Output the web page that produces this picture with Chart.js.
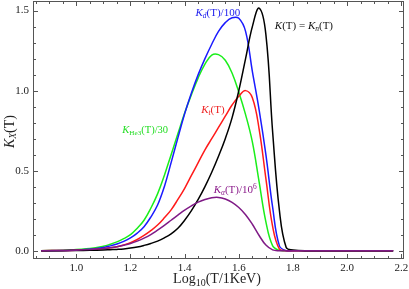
<!DOCTYPE html>
<html>
<head>
<meta charset="utf-8">
<script src="https://cdn.jsdelivr.net/npm/chart.js@4"></script>
<style>
  html, body { margin: 0; padding: 0; background: #fff; }
  #wrap { width: 409px; height: 289px; position: relative; }
</style>
</head>
<body>
<div id="wrap"><canvas id="chart"></canvas></div>
<script>
// ---------- data ----------
const LOG_T = [0.87, 0.95, 1.0, 1.05,
    1.1, 1.125, 1.15, 1.175, 1.2, 1.225, 1.25, 1.275, 1.3, 1.325, 1.35, 1.375, 1.4, 1.425, 1.45, 1.475,
    1.5, 1.525, 1.55, 1.575, 1.6, 1.625, 1.65, 1.675, 1.7, 1.725, 1.75, 1.775, 1.8,
    1.85, 2.17];

const K_N = [0, 0, 0.001, 0.002,
    0.004, 0.006, 0.008, 0.011, 0.016, 0.023, 0.033, 0.045, 0.06, 0.08, 0.105, 0.14, 0.19, 0.25, 0.32, 0.4,
    0.49, 0.59, 0.7, 0.83, 1.0, 1.2, 1.4, 1.515, 1.35, 0.74, 0.25, 0.02, 0.005,
    0, 0];
const K_D = [0, 0.001, 0.005, 0.009,
    0.02, 0.03, 0.042, 0.058, 0.08, 0.11, 0.15, 0.21, 0.285, 0.4, 0.55, 0.705, 0.855, 0.985, 1.1, 1.2,
    1.29, 1.37, 1.425, 1.455, 1.452, 1.37, 1.12, 0.88, 0.6, 0.27, 0.03, 0, 0,
    0, 0];
const K_T = [0, 0.001, 0.003, 0.006,
    0.012, 0.018, 0.025, 0.036, 0.05, 0.07, 0.095, 0.125, 0.16, 0.205, 0.255, 0.32, 0.39, 0.47, 0.55, 0.63,
    0.7, 0.77, 0.84, 0.91, 0.965, 1.0, 0.955, 0.76, 0.45, 0.15, 0.01, 0, 0,
    0, 0];
const K_HE3 = [0, 0.002, 0.008, 0.013,
    0.028, 0.04, 0.055, 0.075, 0.1, 0.14, 0.19, 0.265, 0.355, 0.47, 0.6, 0.73, 0.86, 0.975, 1.08, 1.165,
    1.222, 1.225, 1.19, 1.11, 0.99, 0.85, 0.68, 0.43, 0.18, 0.03, 0.002, 0, 0,
    0, 0];
const K_ALPHA = [0, 0.001, 0.003, 0.007,
    0.013, 0.018, 0.025, 0.034, 0.045, 0.06, 0.078, 0.1, 0.128, 0.158, 0.19, 0.222, 0.253, 0.28, 0.303, 0.32,
    0.331, 0.333, 0.323, 0.302, 0.27, 0.225, 0.165, 0.095, 0.035, 0.005, 0, 0, 0,
    0, 0];

const X_TICKS = [1.0, 1.2, 1.4, 1.6, 1.8, 2.0, 2.2];
const Y_TICKS = [0.0, 0.5, 1.0, 1.5];

const SERIF = '"Liberation Serif", "DejaVu Serif", serif';

// curve labels (rich text with subscripts/superscripts), anchored in data coords
const CURVE_LABELS = [
    { x: 1.44, y: 1.486, size: 11, color: '#2222ee', parts: [['K', 'i'], ['d', 'sub'], ['(T)/100']] },
    { x: 1.733, y: 1.404, size: 11, color: '#111', parts: [['K', 'i'], ['(T) = '], ['K', 'i'], ['n', 'sub'], ['(T)']] },
    { x: 1.17, y: 0.754, size: 10.5, color: '#22dd22', parts: [['K', 'i'], ['He3', 'sub'], ['(T)/30']] },
    { x: 1.461, y: 0.879, size: 11, color: '#ee2222', parts: [['K', 'i'], ['t', 'sub'], ['(T)']] },
    { x: 1.507, y: 0.379, size: 11, color: '#8a1a8a', parts: [['K', 'i'], ['α', 'sub'], ['(T)/10'], ['6', 'sup']] }
];

function pts(arr) {
    return LOG_T.map((x, i) => ({ x: x, y: arr[i] }));
}

function drawRich(ctx, x, y, parts, size, color) {
    ctx.fillStyle = color;
    ctx.textBaseline = 'middle';
    ctx.textAlign = 'left';
    let cx = x;
    parts.forEach(p => {
        const kind = p[1] || '';
        const small = kind === 'sub' || kind === 'sup';
        const fs = small ? size * 0.68 : size;
        const ital = kind === 'i' || (small && p[0] !== '6' && p[0] !== 'He3') ? 'italic ' : '';
        ctx.font = ital + fs + 'px ' + SERIF;
        let dy = 0;
        if (kind === 'sub') dy = size * 0.28;
        if (kind === 'sup') dy = -size * 0.3;
        ctx.fillText(p[0], cx, y + dy);
        cx += ctx.measureText(p[0]).width;
    });
    return cx - x;
}

function richWidth(ctx, parts, size) {
    let w = 0;
    parts.forEach(p => {
        const small = p[1] === 'sub' || p[1] === 'sup';
        ctx.font = (p[1] === 'i' ? 'italic ' : '') + (small ? size * 0.68 : size) + 'px ' + SERIF;
        w += ctx.measureText(p[0]).width;
    });
    return w;
}

// frame with inward ticks on all four sides, plus axis titles and curve labels
const framePlugin = {
    id: 'frame',
    afterDatasetsDraw(chart) {
        const ctx = chart.ctx;
        const a = chart.chartArea;
        const xs = chart.scales.x, ys = chart.scales.y;
        ctx.save();
        ctx.strokeStyle = '#555';
        ctx.lineWidth = 1;
        ctx.strokeRect(a.left + 0.5, a.top + 0.5, a.right - a.left - 1, a.bottom - a.top - 1);

        // x ticks
        for (let i = 0; i <= 28; i++) {
            const v = 0.85 + i * 0.05;
            if (v > xs.max) break;
            const major = i % 4 === 3;
            const len = major ? 5 : 3;
            const px = Math.round(xs.getPixelForValue(v)) + 0.5;
            ctx.beginPath();
            ctx.moveTo(px, a.bottom); ctx.lineTo(px, a.bottom - len);
            ctx.moveTo(px, a.top); ctx.lineTo(px, a.top + len);
            ctx.stroke();
        }
        // y ticks
        for (let i = 0; i <= 15; i++) {
            const v = i * 0.1;
            const major = i % 5 === 0;
            const len = major ? 5 : 3;
            const py = Math.round(ys.getPixelForValue(v)) + 0.5;
            ctx.beginPath();
            ctx.moveTo(a.left, py); ctx.lineTo(a.left + len, py);
            ctx.moveTo(a.right, py); ctx.lineTo(a.right - len, py);
            ctx.stroke();
        }

        // curve labels
        CURVE_LABELS.forEach(l => {
            drawRich(ctx, xs.getPixelForValue(l.x), ys.getPixelForValue(l.y), l.parts, l.size, l.color);
        });

        // x title: Log10(T/1KeV)
        const xt = [['Log'], ['10', 'subn'], ['(T/1KeV)']];
        ctx.fillStyle = '#222';
        ctx.textBaseline = 'middle';
        let w = 0;
        xt.forEach(p => {
            ctx.font = (p[1] ? 10 : 14) + 'px ' + SERIF;
            w += ctx.measureText(p[0]).width;
        });
        let cx = 217 - w / 2;
        xt.forEach(p => {
            ctx.font = (p[1] ? 10 : 14) + 'px ' + SERIF;
            ctx.fillText(p[0], cx, 279 + (p[1] ? 4 : 0));
            cx += ctx.measureText(p[0]).width;
        });

        // y title: K_X(T), rotated
        ctx.translate(10, 131);
        ctx.rotate(-Math.PI / 2);
        const yt = [['K', 'i'], ['X', 'sub'], ['(T)']];
        const yw = richWidth(ctx, yt, 14);
        drawRich(ctx, -yw / 2, 0, yt, 14, '#222');
        ctx.restore();
    }
};

const common = { fill: false, pointRadius: 0, borderWidth: 1.5, tension: 0.4 };

new Chart(document.getElementById('chart'), {
    type: 'line',
    data: {
        datasets: [
            { ...common, label: 'K_alpha/1e6', data: pts(K_ALPHA), borderColor: '#7f1a86' },
            { ...common, label: 'K_n', data: pts(K_N), borderColor: '#000000' },
            { ...common, label: 'K_t', data: pts(K_T), borderColor: '#ff1a1a' },
            { ...common, label: 'K_d/100', data: pts(K_D), borderColor: '#1a1aff' },
            { ...common, label: 'K_He3/30', data: pts(K_HE3), borderColor: '#1aee1a' }
        ]
    },
    options: {
        responsive: true,
        maintainAspectRatio: false,
        animation: false,
        layout: { padding: { top: 1, right: 5, left: 0, bottom: 0 } },
        plugins: { legend: { display: false }, tooltip: { enabled: false } },
        scales: {
            x: {
                type: 'linear',
                min: 0.84,
                max: 2.21,
                grid: { display: false, drawTicks: false },
                border: { display: false },
                afterBuildTicks: s => { s.ticks = X_TICKS.map(v => ({ value: v })); },
                afterFit: s => { s.height = 30; s.paddingLeft = 0; s.paddingRight = 0; },
                ticks: {
                    padding: 3,
                    color: '#222',
                    font: { family: SERIF, size: 11 },
                    callback: v => v.toFixed(1),
                    maxRotation: 0
                }
            },
            y: {
                type: 'linear',
                min: -0.052,
                max: 1.56,
                grid: { display: false, drawTicks: false },
                border: { display: false },
                afterBuildTicks: s => { s.ticks = Y_TICKS.map(v => ({ value: v })); },
                afterFit: s => { s.width = 33; s.paddingTop = 0; s.paddingBottom = 0; },
                ticks: {
                    padding: 4,
                    color: '#222',
                    font: { family: SERIF, size: 11 },
                    callback: v => v.toFixed(1)
                }
            }
        }
    },
    plugins: [framePlugin]
});
</script>
</body>
</html>
